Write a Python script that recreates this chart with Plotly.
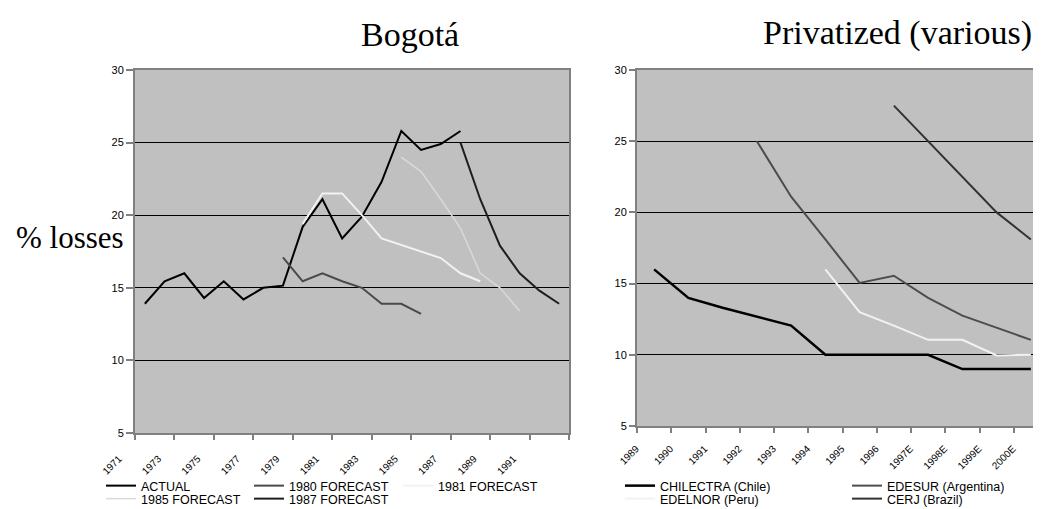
import plotly.graph_objects as go

# ---------------- data: Bogota ----------------
bogota_years = ["1971", "1972", "1973", "1974", "1975", "1976", "1977", "1978",
                "1979", "1980", "1981", "1982", "1983", "1984", "1985", "1986",
                "1987", "1988", "1989", "1990", "1991", "1992"]

actual_years = bogota_years[0:17]
actual = [13.9, 15.45, 16.0, 14.3, 15.45, 14.2, 15.0, 15.15, 19.2, 21.1,
          18.4, 19.9, 22.3, 25.8, 24.5, 24.9, 25.8]

f1980_years = ["1978", "1979", "1980", "1981", "1982", "1983", "1984", "1985"]
f1980 = [17.1, 15.45, 16.0, 15.45, 15.0, 13.9, 13.9, 13.2]

f1981_years = ["1979", "1980", "1981", "1982", "1983", "1984", "1985", "1986", "1987", "1988"]
f1981 = [19.4, 21.5, 21.5, 20.0, 18.4, 17.95, 17.5, 17.05, 16.0, 15.45]

f1985_years = ["1984", "1985", "1986", "1987", "1988", "1989", "1990"]
f1985 = [24.0, 23.0, 21.1, 19.1, 16.0, 15.0, 13.4]

f1987_years = ["1987", "1988", "1989", "1990", "1991", "1992"]
f1987 = [25.0, 21.1, 17.9, 16.0, 14.8, 13.9]

# ---------------- data: Privatized ----------------
priv_years = ["1989", "1990", "1991", "1992", "1993", "1994", "1995", "1996",
              "1997E", "1998E", "1999E", "2000E"]

chilectra_years = priv_years
chilectra = [16.0, 14.0, 13.3, 12.7, 12.05, 10.0, 10.0, 10.0, 10.0, 9.0, 9.0, 9.0]

edesur_years = ["1992", "1993", "1994", "1995", "1996", "1997E", "1998E", "1999E", "2000E"]
edesur = [25.0, 21.1, 18.1, 15.05, 15.55, 14.0, 12.75, 11.9, 11.05]

edelnor_years = ["1994", "1995", "1996", "1997E", "1998E", "1999E", "2000E"]
edelnor = [16.0, 13.0, 12.05, 11.05, 11.05, 9.95, 10.0]

cerj_years = ["1996", "1997E", "1998E", "1999E", "2000E"]
cerj = [27.5, 25.0, 22.5, 20.0, 18.1]

y_ticks = [5, 10, 15, 20, 25, 30]

# ---------------- figure ----------------
W, H = 1041, 509
fig = go.Figure()
SANS = "Liberation Sans, Arial, sans-serif"
SERIF = "Liberation Serif, Times New Roman, serif"


def px_x(p):
    return p / W


def px_y(p):
    return 1 - p / H


legends = {}
leg_common = dict(orientation="h", font=dict(family=SANS, size=12.5, color="#000"),
                  bgcolor="rgba(0,0,0,0)", borderwidth=0, xanchor="left",
                  yanchor="middle", itemclick=False, itemdoubleclick=False)


def add(years, vals, cats, name, color, width, xa, ya, lg, lx, ly):
    fig.add_trace(go.Scatter(
        x=[cats.index(c) for c in years], y=vals, mode="lines", name=name,
        line=dict(color=color, width=width), xaxis=xa, yaxis=ya, legend=lg,
        showlegend=True, hoverinfo="skip"))
    legends[lg] = dict(leg_common, x=px_x(lx), y=px_y(ly))


ROW1, ROW2 = 478, 491
add(actual_years, actual, bogota_years, "ACTUAL", "#000000", 2, "x", "y", "legend", 93, ROW1)
add(f1980_years, f1980, bogota_years, "1980 FORECAST", "#4a4a4a", 2, "x", "y", "legend2", 241, ROW1)
add(f1981_years, f1981, bogota_years, "1981 FORECAST", "#f2f2f2", 2, "x", "y", "legend3", 390, ROW1)
add(f1985_years, f1985, bogota_years, "1985 FORECAST", "#d9d9d9", 1.5, "x", "y", "legend4", 93, ROW2)
add(f1987_years, f1987, bogota_years, "1987 FORECAST", "#1e1e1e", 2, "x", "y", "legend5", 241, ROW2)

add(chilectra_years, chilectra, priv_years, "CHILECTRA (Chile)", "#000000", 2.5, "x2", "y2", "legend6", 612, ROW1)
add(edesur_years, edesur, priv_years, "EDESUR (Argentina)", "#4d4d4d", 2, "x2", "y2", "legend7", 839, ROW1)
add(edelnor_years, edelnor, priv_years, "EDELNOR (Peru)", "#f2f2f2", 2, "x2", "y2", "legend8", 612, ROW2)
add(cerj_years, cerj, priv_years, "CERJ (Brazil)", "#333333", 2, "x2", "y2", "legend9", 839, ROW2)

GRAY = "#808080"


def xax(dom, cats, step, shift, standoff, anchor):
    n = len(cats)
    return dict(
        domain=dom, range=[-0.5, n - 0.5], anchor=anchor,
        tickmode="array", tickvals=list(range(0, n, step)), ticktext=cats[::step],
        ticks="", tickangle=-45, tickfont=dict(family=SANS, size=10, color="#000"),
        ticklabelshift=shift, ticklabelstandoff=standoff, automargin=False,
        showgrid=False, zeroline=False, showline=True, mirror=True,
        linecolor=GRAY, linewidth=2,
        minor=dict(tickmode="array", tickvals=[i - 0.5 for i in range(0, n + 1, step)],
                   ticks="outside", ticklen=5, tickwidth=1.5, tickcolor=GRAY, showgrid=False),
        fixedrange=True)


def yax(dom, anchor, size, tlen):
    return dict(
        domain=dom, range=[5, 30], tickmode="array", tickvals=y_ticks,
        ticks="outside", ticklen=tlen, tickwidth=1.5, tickcolor=GRAY,
        tickfont=dict(family=SANS, size=size, color="#000"), automargin=False,
        showgrid=True, gridcolor="#000000", gridwidth=1, zeroline=False,
        showline=True, mirror=True, linecolor=GRAY, linewidth=2,
        anchor=anchor, fixedrange=True)


fig.update_layout(
    width=W, height=H, margin=dict(l=0, r=0, t=0, b=0, autoexpand=False),
    paper_bgcolor="white", plot_bgcolor="#c0c0c0", showlegend=True,
    xaxis=xax([px_x(127), px_x(561)], bogota_years, 2, -26, 14, "y"),
    yaxis=yax([px_y(425), px_y(62)], "x", 11, 7),
    xaxis2=xax([px_x(629), px_x(1040)], priv_years, 1, -18, 11, "y2"),
    yaxis2=yax([px_y(418), px_y(62)], "x2", 11, 6),
    **legends,
)

annotations = [
    dict(text="Bogotá", x=px_x(402), y=px_y(26), xref="paper", yref="paper",
         showarrow=False, xanchor="center", yanchor="middle",
         font=dict(family=SERIF, size=34, color="#000")),
    dict(text="Privatized (various)", x=px_x(889), y=px_y(25), xref="paper", yref="paper",
         showarrow=False, xanchor="center", yanchor="middle",
         font=dict(family=SERIF, size=34, color="#000")),
    dict(text="% losses", x=px_x(62), y=px_y(229), xref="paper", yref="paper",
         showarrow=False, xanchor="center", yanchor="middle",
         font=dict(family=SERIF, size=31, color="#000")),
]
fig.update_layout(annotations=annotations)

fig.write_html("out.html")
